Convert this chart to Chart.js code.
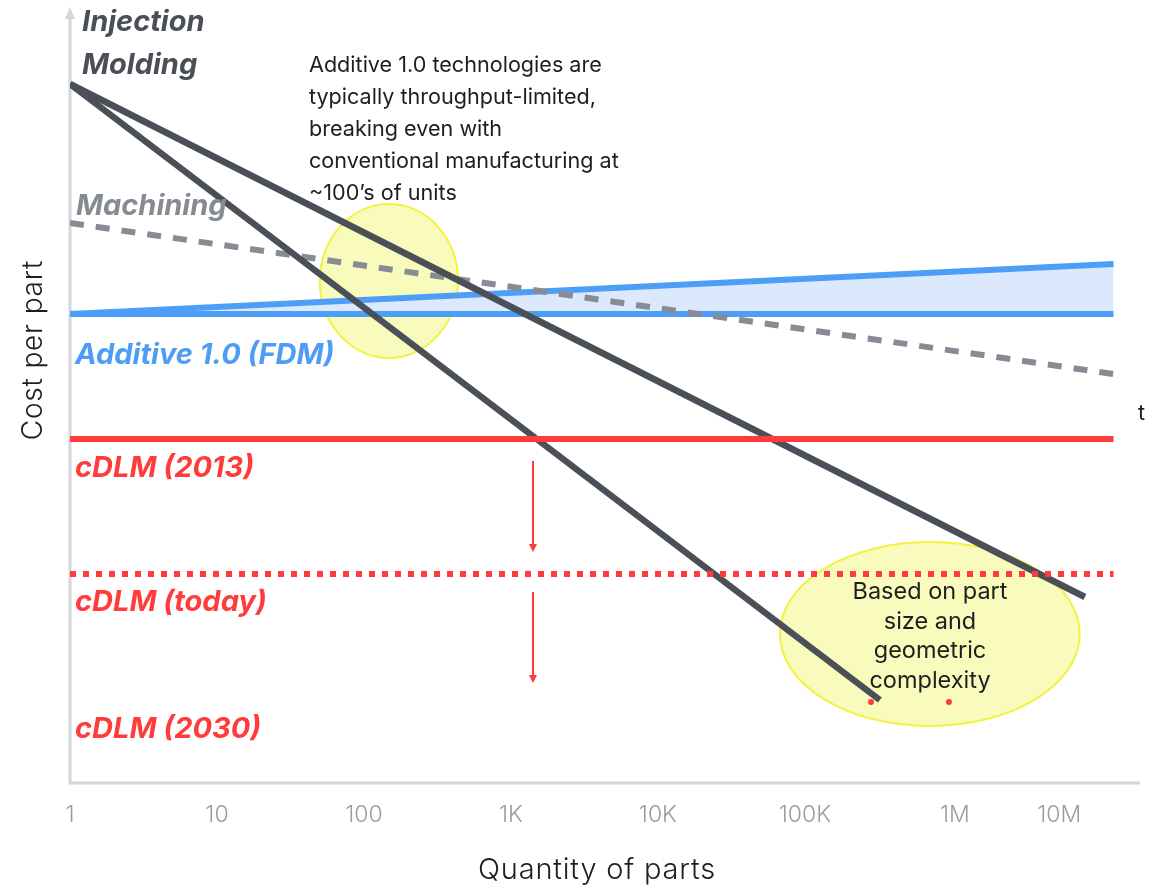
<!DOCTYPE html>
<html>
<head>
<meta charset="utf-8">
<script src="https://cdn.jsdelivr.net/npm/chart.js@4.4.0/dist/chart.umd.min.js"></script>
<style>
  body { margin: 0; background: #fff; }
  #wrap { width: 1165px; height: 891px; }
</style>
</head>
<body>
<div id="wrap"><canvas id="costChart" width="1165" height="891"></canvas></div>
<script>
// x is log10(quantity), y is relative cost per part
const tickDecades = [0, 1, 2, 3, 4, 5, 6.02, 6.73];
const tickLabels = ['1', '10', '100', '1K', '10K', '100K', '1M', '10M'];

const lineX = [0, 7.1];
const moldingFastX = [0, 5.51];
const moldingSlowX = [0, 6.905];
const moldingFastCost = [69.8, 8.2];
const moldingSlowCost = [69.8, 18.5];
const machiningCost = [55.9, 40.8];
const additiveLow = [46.8, 46.8];
const additiveHigh = [46.8, 51.8];
const cdlm2013Cost = [34.3, 34.3];
const cdlmTodayCost = [20.8, 20.8];

const rangeDotX = [5.45, 5.98];
const rangeDotY = [8.0, 8.0];

// red arrows: cost drop 2013 -> today -> 2030
const arrowX = [3.15, 3.15];
const arrowFrom = [32.1, 19.0];
const arrowTo = [23.0, 9.9];

// highlight bubbles (centre / radius in data units)
const bubbleX = [2.17, 5.85];
const bubbleY = [50.1, 14.8];
const bubbleRx = [0.47, 1.02];
const bubbleRy = [7.7, 9.2];

function pts(xs, ys) {
  return xs.map((x, i) => ({ x: x, y: ys[i] }));
}

const FONT = 'Inter, "Noto Sans", sans-serif';

// 축, 말풍선, 화살표, 텍스트 그리기
const decorPlugin = {
  id: 'decor',
  beforeDatasetsDraw(chart) {
    const ctx = chart.ctx;
    const xs = chart.scales.x, ys = chart.scales.y;
    const area = chart.chartArea;
    ctx.save();
    // axes
    ctx.strokeStyle = '#d3d6db';
    ctx.fillStyle = '#d3d6db';
    ctx.lineWidth = 3;
    ctx.beginPath();
    ctx.moveTo(area.left, area.bottom + 1);
    ctx.lineTo(area.left, 16);
    ctx.moveTo(area.left - 1.5, area.bottom + 1);
    ctx.lineTo(1140, area.bottom + 1);
    ctx.stroke();
    ctx.beginPath();
    ctx.moveTo(area.left, 7);
    ctx.lineTo(area.left - 5, 19);
    ctx.lineTo(area.left + 5, 19);
    ctx.closePath();
    ctx.fill();

    // bubbles
    for (let i = 0; i < bubbleX.length; i++) {
      const cx = xs.getPixelForValue(bubbleX[i]);
      const cy = ys.getPixelForValue(bubbleY[i]);
      const rx = xs.getPixelForValue(bubbleX[i] + bubbleRx[i]) - cx;
      const ry = cy - ys.getPixelForValue(bubbleY[i] + bubbleRy[i]);
      ctx.beginPath();
      ctx.ellipse(cx, cy, rx, ry, 0, 0, Math.PI * 2);
      ctx.fillStyle = '#f8fbbb';
      ctx.fill();
      ctx.strokeStyle = '#f3f33f';
      ctx.lineWidth = 2;
      ctx.stroke();
    }
    ctx.restore();
  },
  afterDatasetsDraw(chart) {
    const ctx = chart.ctx;
    const xs = chart.scales.x, ys = chart.scales.y;
    ctx.save();
    // arrows
    ctx.strokeStyle = '#ff3b3b';
    ctx.fillStyle = '#ff3b3b';
    ctx.lineWidth = 2;
    for (let i = 0; i < arrowX.length; i++) {
      const px = xs.getPixelForValue(arrowX[i]);
      const y0 = ys.getPixelForValue(arrowFrom[i]);
      const y1 = ys.getPixelForValue(arrowTo[i]);
      ctx.beginPath();
      ctx.moveTo(px, y0);
      ctx.lineTo(px, y1 - 6);
      ctx.stroke();
      ctx.beginPath();
      ctx.moveTo(px, y1);
      ctx.lineTo(px - 4, y1 - 8);
      ctx.lineTo(px + 4, y1 - 8);
      ctx.closePath();
      ctx.fill();
    }

    // tick labels
    ctx.fillStyle = '#9c9c9c';
    ctx.font = '300 23px ' + FONT;
    ctx.textAlign = 'center';
    ctx.textBaseline = 'alphabetic';
    tickDecades.forEach((d, i) => {
      ctx.fillText(tickLabels[i], xs.getPixelForValue(d), 822);
    });

    // axis titles
    ctx.fillStyle = '#1e1e1e';
    ctx.letterSpacing = '0.8px';
    ctx.font = '300 29px ' + FONT;
    ctx.fillText('Quantity of parts', 597, 879);
    ctx.save();
    ctx.translate(42, 350);
    ctx.rotate(-Math.PI / 2);
    ctx.font = '300 28px ' + FONT;
    ctx.fillText('Cost per part', 0, 0);
    ctx.restore();
    ctx.letterSpacing = '0px';

    // series labels
    ctx.textAlign = 'left';
    ctx.font = 'italic 700 29px ' + FONT;
    ctx.fillStyle = '#4a4e56';
    ctx.fillText('Injection', 82, 31);
    ctx.fillText('Molding', 82, 74);
    ctx.fillStyle = '#868b93';
    ctx.fillText('Machining', 76, 215);
    ctx.fillStyle = '#4d9cf5';
    ctx.fillText('Additive 1.0 (FDM)', 75, 364);
    ctx.fillStyle = '#ff3b3b';
    ctx.fillText('cDLM (2013)', 75, 477);
    ctx.fillText('cDLM (today)', 75, 611);
    ctx.fillText('cDLM (2030)', 75, 738);

    // notes
    ctx.fillStyle = '#1e1e1e';
    ctx.font = '400 21.6px ' + FONT;
    const note = ['Additive 1.0 technologies are', 'typically throughput-limited,',
      'breaking even with', 'conventional manufacturing at', '~100\u2019s of units'];
    note.forEach((t, i) => ctx.fillText(t, 309, 72 + i * 32));
    ctx.fillText('t', 1138, 420);

    ctx.textAlign = 'center';
    ctx.font = '400 23.5px ' + FONT;
    const note2 = ['Based on part', 'size and', 'geometric', 'complexity'];
    note2.forEach((t, i) => ctx.fillText(t, 930, 599 + i * 29.5));
    ctx.restore();
  }
};

const ctx = document.getElementById('costChart').getContext('2d');
const costChart = new Chart(ctx, {
  type: 'line',
  data: {
    datasets: [
      {
        label: 'cDLM (today)',
        data: pts(lineX, cdlmTodayCost),
        borderColor: '#ff3b3b',
        borderWidth: 6,
        borderDash: [6, 7],
        borderCapStyle: 'butt'
      },
      {
        label: 'cDLM (2013)',
        data: pts(lineX, cdlm2013Cost),
        borderColor: '#ff3b3b',
        borderWidth: 6,
        borderCapStyle: 'butt'
      },
      {
        type: 'scatter',
        label: 'range',
        data: pts(rangeDotX, rangeDotY),
        backgroundColor: '#ff3b3b',
        borderWidth: 0,
        pointRadius: 3
      },
      {
        label: 'Injection Molding (high)',
        data: pts(moldingSlowX, moldingSlowCost),
        borderColor: '#4b5058',
        borderWidth: 6.5,
        borderCapStyle: 'butt'
      },
      {
        label: 'Injection Molding (low)',
        data: pts(moldingFastX, moldingFastCost),
        borderColor: '#4b5058',
        borderWidth: 6.5,
        borderCapStyle: 'butt'
      },
      {
        label: 'Machining',
        data: pts(lineX, machiningCost),
        borderColor: '#878c94',
        borderWidth: 6,
        borderDash: [14, 12],
        borderCapStyle: 'butt'
      },
      {
        label: 'Additive 1.0 low',
        data: pts(lineX, additiveLow),
        borderColor: '#4d9ef7',
        borderWidth: 6,
        borderCapStyle: 'butt'
      },
      {
        label: 'Additive 1.0 high',
        data: pts(lineX, additiveHigh),
        borderColor: '#4d9ef7',
        borderWidth: 6,
        borderCapStyle: 'butt',
        fill: '-1',
        backgroundColor: '#dce9fc'
      }
    ]
  },
  options: {
    responsive: false,
    animation: false,
    layout: { padding: { left: 70, right: 50, top: 12, bottom: 109 } },
    elements: { point: { radius: 0 }, line: { tension: 0 } },
    scales: {
      x: { type: 'linear', min: 0, max: 7.11, display: false },
      y: { type: 'linear', min: 0, max: 77, display: false }
    },
    plugins: {
      legend: { display: false },
      tooltip: { enabled: false },
      filler: { propagate: false }
    }
  },
  plugins: [decorPlugin]
});
</script>
</body>
</html>
